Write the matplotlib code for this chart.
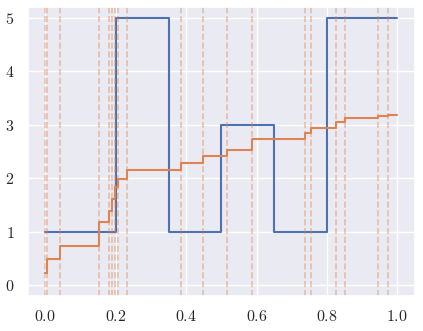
import matplotlib
matplotlib.use("Agg")
import matplotlib.pyplot as plt
import seaborn as sns

# blue: piecewise-constant target
blue_x = [0.0, 0.2, 0.35, 0.5, 0.65, 0.8, 1.0]
blue_y = [1, 5, 1, 3, 1, 5, 5]

# orange: running estimate, value after each sample point
samples = [0.0, 0.004, 0.041, 0.153, 0.181, 0.189, 0.198, 0.207, 0.231,
           0.386, 0.448, 0.517, 0.588, 0.738, 0.755, 0.826, 0.850, 0.946, 0.972]
est_y = [0.23, 0.48, 0.72, 1.18, 1.38, 1.61, 1.83, 1.99, 2.16,
         2.29, 2.41, 2.53, 2.73, 2.84, 2.93, 3.05, 3.13, 3.16, 3.18]

sns.set_theme(style="darkgrid")
plt.rcParams["font.family"] = "serif"
plt.rcParams["font.serif"] = ["cmr10"]
plt.rcParams["axes.formatter.use_mathtext"] = True

blue, orange = sns.color_palette("deep")[:2]

fig = plt.figure(figsize=(4.23, 3.31), dpi=100)
ax = fig.add_axes([0.0655, 0.107, 0.9155, 0.871])

ax.step(blue_x, blue_y, where="post", color=blue, lw=1.5)
ax.step(samples + [1.0], est_y + [est_y[-1]], where="post", color=orange, lw=1.5)
for s in samples:
    ax.axvline(s, color=orange, ls="--", lw=1.2, alpha=0.45)

ax.set_xlim(-0.05, 1.05)
ax.set_ylim(-0.2, 5.2)
ax.set_xticks([0.0, 0.2, 0.4, 0.6, 0.8, 1.0])
ax.set_yticks([0, 1, 2, 3, 4, 5])
ax.tick_params(labelsize=11.5)

fig.savefig("out.png", dpi=100)
